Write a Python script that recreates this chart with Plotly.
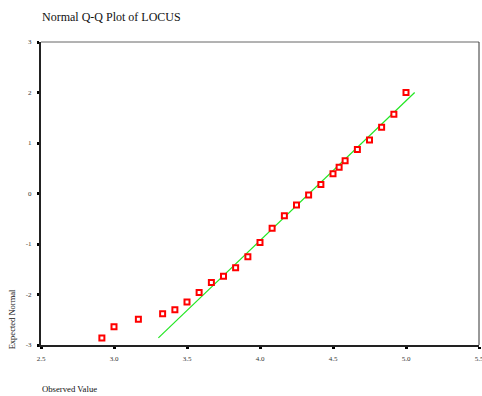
import plotly.graph_objects as go

# Observed LOCUS scores and their expected normal values
observed = [2.917, 3.000, 3.167, 3.333, 3.417, 3.500, 3.583, 3.667, 3.750,
            3.833, 3.917, 4.000, 4.083, 4.167, 4.250, 4.333, 4.417, 4.500,
            4.542, 4.583, 4.667, 4.750, 4.833, 4.917, 5.000]
expected = [-2.86, -2.64, -2.49, -2.38, -2.30, -2.15, -1.96, -1.76, -1.64,
            -1.47, -1.25, -0.97, -0.69, -0.44, -0.23, -0.03, 0.18, 0.39,
            0.52, 0.65, 0.87, 1.06, 1.31, 1.57, 2.00]

# Reference normal line parameters (observed = mean + sd * z)
line_mean = 4.337
line_sd = 0.3612

x_ticks = [2.5, 3.0, 3.5, 4.0, 4.5, 5.0, 5.5]
x_tick_text = ["2.5", "3.0", "3.5", "4.0", "4.5", "5.0", "5.5"]
y_ticks = [-3, -2, -1, 0, 1, 2, 3]
y_tick_text = ["-3", "-2", "-1", "0", "1", "2", "3"]

z_lo, z_hi = min(expected), max(expected)
line_x = [line_mean + line_sd * z_lo, line_mean + line_sd * z_hi]
line_y = [z_lo, z_hi]

serif = "Liberation Serif, Times New Roman, serif"

fig = go.Figure()
fig.add_trace(go.Scatter(
    x=line_x, y=line_y, mode="lines",
    line=dict(color="#22e622", width=1.2),
    hoverinfo="skip", showlegend=False,
))
fig.add_trace(go.Scatter(
    x=observed, y=expected, mode="markers",
    marker=dict(symbol="square", size=5, color="white",
                line=dict(color="#ff0000", width=2)),
    showlegend=False,
))

# thin frame on top and right
fig.add_shape(type="line", xref="paper", yref="paper", x0=0, x1=1, y0=1, y1=1,
              line=dict(color="#666666", width=1))
fig.add_shape(type="line", xref="paper", yref="paper", x0=1, x1=1, y0=0, y1=1,
              line=dict(color="#333333", width=1))

fig.add_annotation(text="Normal Q-Q Plot of LOCUS", xref="paper", yref="paper",
                   x=-0.002, y=1.0825, xanchor="left", yanchor="middle",
                   showarrow=False, font=dict(family=serif, size=12, color="#111"))
fig.add_annotation(text="Expected Normal", xref="paper", yref="paper",
                   x=-0.066, y=0.085, xanchor="center", yanchor="middle",
                   textangle=-90, showarrow=False,
                   font=dict(family=serif, size=8.5, color="#111"))
fig.add_annotation(text="Observed Value", xref="paper", yref="paper",
                   x=-0.002, y=-0.144, xanchor="left", yanchor="middle",
                   showarrow=False, font=dict(family=serif, size=8.7, color="#111"))

fig.update_xaxes(range=[2.5, 5.5], tickvals=x_ticks, ticktext=x_tick_text,
                 showgrid=False, zeroline=False, showline=True,
                 linecolor="#222", linewidth=2, ticks="outside", ticklen=2,
                 tickwidth=3, tickcolor="#000", ticklabelstandoff=4,
                 ticklabeloverflow="allow", automargin=False,
                 tickfont=dict(family=serif, size=7, color="#333"))
fig.update_yaxes(range=[-3, 3], tickvals=y_ticks, ticktext=y_tick_text,
                 showgrid=False, zeroline=False, showline=True,
                 linecolor="#222", linewidth=2, ticks="outside", ticklen=2,
                 tickwidth=3, tickcolor="#000", ticklabelstandoff=4,
                 ticklabeloverflow="allow", automargin=False,
                 tickfont=dict(family=serif, size=7, color="#333"))

fig.update_layout(
    width=482, height=396,
    margin=dict(l=41, r=3, t=42, b=51),
    paper_bgcolor="white", plot_bgcolor="white",
)

fig.write_html("out.html")
